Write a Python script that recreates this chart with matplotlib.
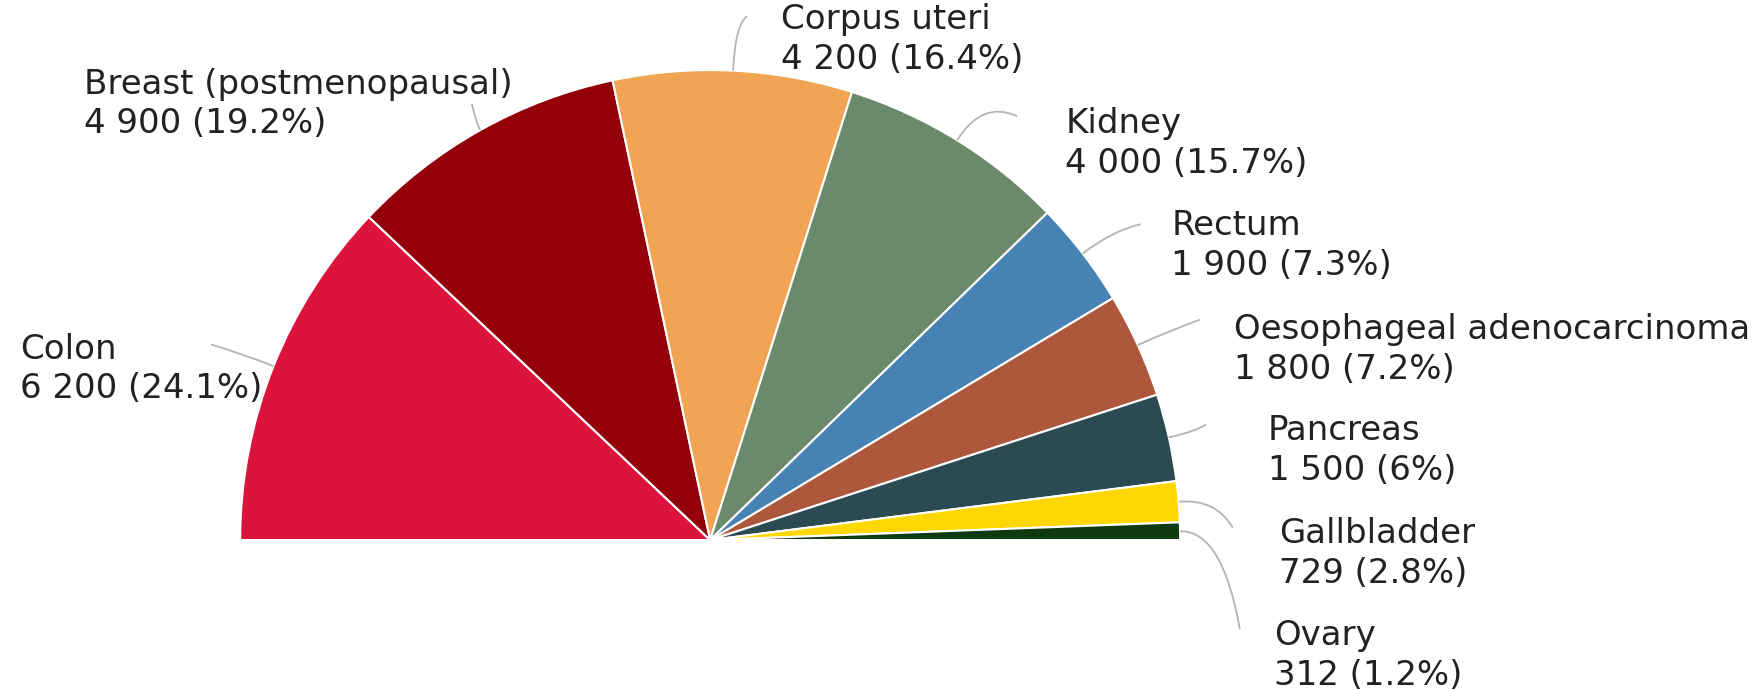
import numpy as np
import matplotlib.pyplot as plt
from matplotlib.path import Path
from matplotlib.patches import PathPatch

sites = ["Colon", "Breast (postmenopausal)", "Corpus uteri", "Kidney", "Rectum",
         "Oesophageal adenocarcinoma", "Pancreas", "Gallbladder", "Ovary"]
cases = ["6 200", "4 900", "4 200", "4 000", "1 900", "1 800", "1 500", "729", "312"]
shares = [24.1, 19.2, 16.4, 15.7, 7.3, 7.2, 6, 2.8, 1.2]
colors = ["#dc143c", "#940009", "#f1a554", "#6b8a6b", "#4682b4",
          "#ad573c", "#2b4a52", "#ffd700", "#0f3a10"]

# label layout (data units, radius = 1): left edge / vertical centre of text block
label_xy = [(-1.469, 0.364), (-1.333, 0.928), (0.151, 1.065), (0.756, 0.843),
            (0.981, 0.627), (1.115, 0.405), (1.187, 0.191), (1.211, -0.028),
            (1.199, -0.246)]
leader_end = [(-1.062, 0.416), (-0.507, 0.928), (0.079, 1.115), (0.653, 0.902),
              (0.916, 0.672), (1.043, 0.469), (1.055, 0.246), (1.112, 0.026),
              (1.127, -0.189)]
leader_bend = [1.07, 1.02, 1.10, 1.10, 1.08, 1.08, 1.06, 1.08, 1.09]

fig = plt.figure(figsize=(17.62, 6.9), dpi=100)
ax = fig.add_axes([0, 0, 1, 1])

sizes = shares + [sum(shares)]  # hidden lower half
wedges, _ = ax.pie(sizes, startangle=180, counterclock=False, radius=1,
                   colors=colors + ["white"],
                   wedgeprops=dict(edgecolor="white", linewidth=1.5))
wedges[-1].set_visible(False)

for w, site, n, p, (tx, ty), end, bend in zip(wedges, sites, cases, shares,
                                              label_xy, leader_end, leader_bend):
    mid = np.deg2rad((w.theta1 + w.theta2) / 2)
    p0 = (np.cos(mid), np.sin(mid))
    p1 = (bend * np.cos(mid), bend * np.sin(mid))
    path = Path([p0, p1, end], [Path.MOVETO, Path.CURVE3, Path.CURVE3])
    ax.add_patch(PathPatch(path, fill=False, edgecolor="#b4b4b4", linewidth=1.3))
    ax.text(tx, ty, f"{site}\n{n} ({p:g}%)", ha="left", va="center",
            fontsize=24.5, color="#222222", linespacing=1.26)

ax.set_xlim(-1.511, 2.238)
ax.set_ylim(-0.319, 1.149)
ax.set_aspect("equal")
ax.axis("off")

fig.savefig("out.png", dpi=100)
